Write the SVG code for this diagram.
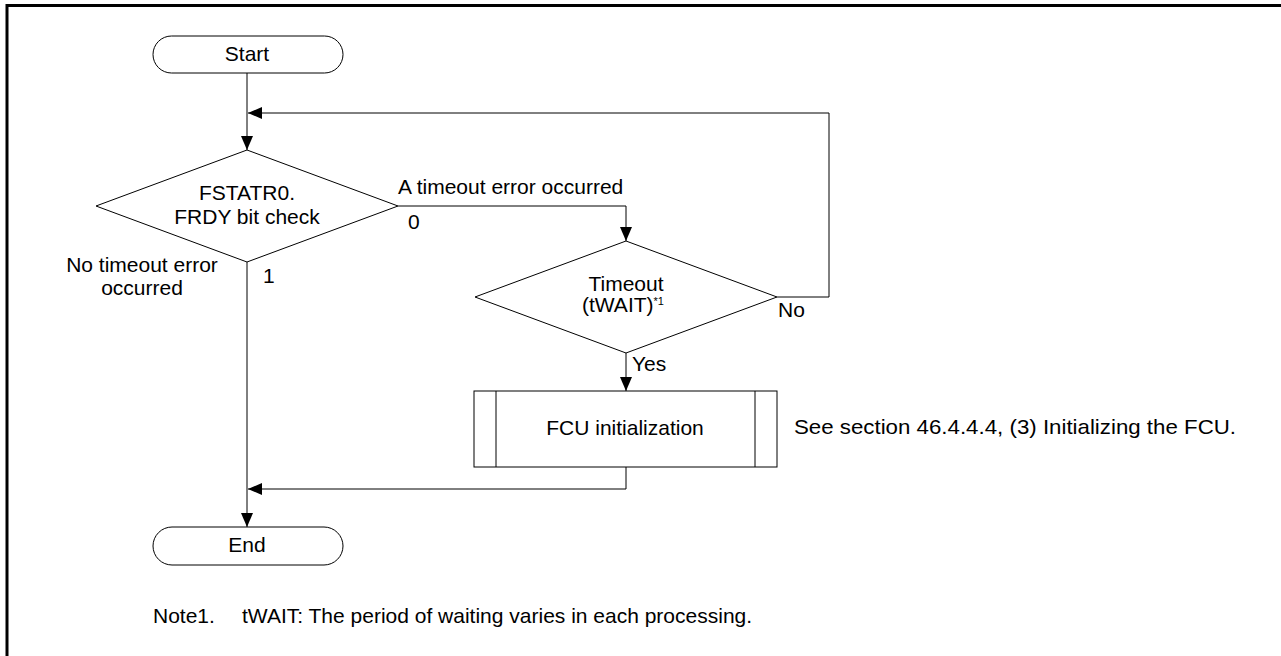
<svg xmlns="http://www.w3.org/2000/svg" width="1281" height="656" viewBox="0 0 1281 656">
<style>
text{font-family:"Liberation Sans",Arial,sans-serif;font-size:21px;fill:#000}
.shape{fill:#fff;stroke:#000;stroke-width:1}
.c{text-anchor:middle}
.conn{fill:none;stroke:#000;stroke-width:1}
</style>
<defs>
<marker id="arr" markerUnits="userSpaceOnUse" markerWidth="14" markerHeight="12" refX="14" refY="6" orient="auto">
<path d="M0,0 L14,6 L0,12 Z" fill="#000"/>
</marker>
</defs>
<rect x="0" y="0" width="1281" height="656" fill="#fff"/>
<path d="M7,660 V5.5 H1285" fill="none" stroke="#000" stroke-width="3"/>
<g id="connectors">
<path class="conn" d="M247,73 V150" marker-end="url(#arr)"/>
<path class="conn" d="M777,297 H829 V113 H248" marker-end="url(#arr)"/>
<path class="conn" d="M398,206 H626 V241" marker-end="url(#arr)"/>
<path class="conn" d="M626,353 V391" marker-end="url(#arr)"/>
<path class="conn" d="M626,467 V489 H248" marker-end="url(#arr)"/>
<path class="conn" d="M247,262 V527" marker-end="url(#arr)"/>
</g>
<g id="start">
<rect class="shape" x="153" y="36" width="190" height="37" rx="18.5"/>
<text class="c" x="247" y="61">Start</text>
</g>
<g id="check">
<polygon class="shape" points="247,150 398,206 247,262 96,206"/>
<text class="c" x="247" y="200">FSTATR0.</text>
<text class="c" x="247" y="224">FRDY bit check</text>
</g>
<g id="timeout">
<polygon class="shape" points="626,241 777,297 626,353 475,297"/>
<text class="c" x="626" y="291">Timeout</text>
<text x="582" y="312">(tWAIT)<tspan font-size="11" dy="-7">*1</tspan></text>
</g>
<g id="fcu">
<rect class="shape" x="474" y="391" width="303" height="76"/>
<line class="conn" x1="496" y1="391" x2="496" y2="467"/>
<line class="conn" x1="755" y1="391" x2="755" y2="467"/>
<text class="c" x="625" y="435">FCU initialization</text>
</g>
<g id="end">
<rect class="shape" x="153" y="527" width="190" height="38" rx="19"/>
<text class="c" x="247" y="552">End</text>
</g>
<g id="labels">
<text x="398" y="194">A timeout error occurred</text>
<text x="408" y="229">0</text>
<text class="c" x="142" y="272">No timeout error</text>
<text class="c" x="142" y="295">occurred</text>
<text x="263" y="283">1</text>
<text x="778" y="317">No</text>
<text x="632" y="371">Yes</text>
<text x="794" y="434" textLength="442" lengthAdjust="spacingAndGlyphs">See section 46.4.4.4, (3) Initializing the FCU.</text>
<text x="153" y="623">Note1.</text>
<text x="242" y="623">tWAIT: The period of waiting varies in each processing.</text>
</g>
</svg>
